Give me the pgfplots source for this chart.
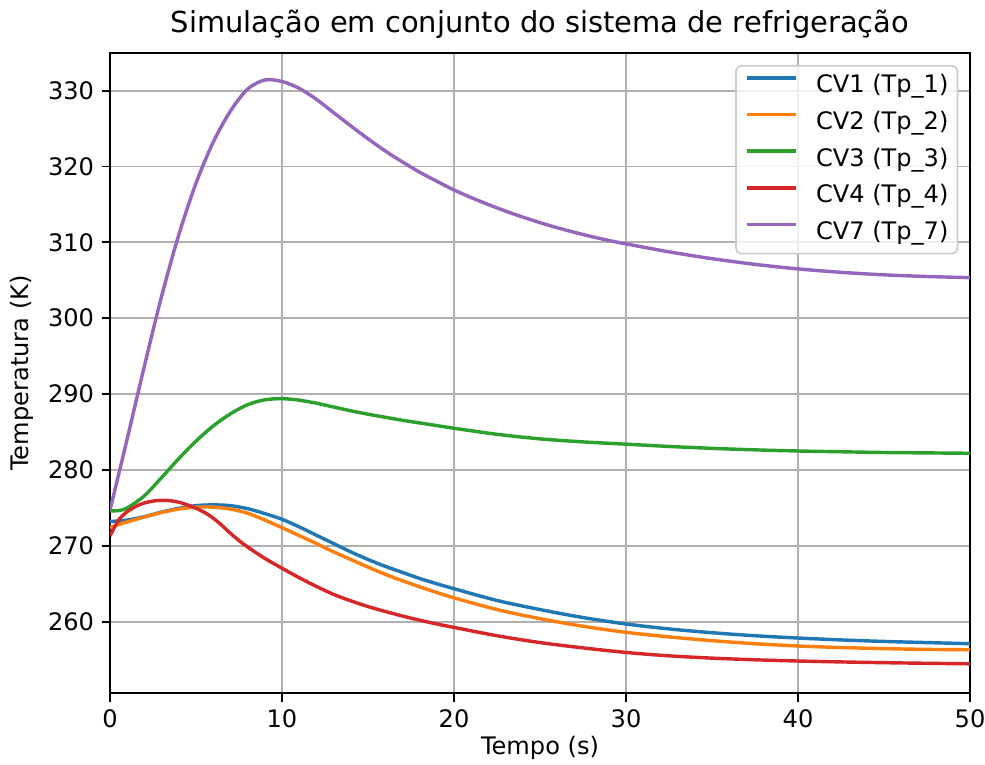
\documentclass[border=0pt]{standalone}
\usepackage{fontspec}
\setmainfont{DejaVu Sans}
\usepackage{pgfplots}
\pgfplotsset{compat=1.18}
\usepackage{pgfplotstable}

\definecolor{c0}{HTML}{1F77B4}
\definecolor{c1}{HTML}{FF7F0E}
\definecolor{c2}{HTML}{2CA02C}
\definecolor{c3}{HTML}{D62728}
\definecolor{c4}{HTML}{9467BD}
\definecolor{gridgray}{HTML}{B0B0B0}

% Temperatura de parede em cada volume de controle (K) ao longo do tempo (s)
\pgfplotstableread{
t     T
0     273.2
1     273.4
2     273.85
3     274.45
4     274.95
5     275.3
6     275.4
7     275.3
8     274.9
9     274.25
10    273.5
11    272.5
12    271.4
13    270.3
14    269.2
15    268.2
16    267.3
17    266.5
18    265.7
19    265.0
20    264.35
22.5  262.8
25    261.6
27.5  260.55
30    259.7
32.5  259.05
35    258.55
37.5  258.15
40    257.85
42.5  257.6
45    257.4
47.5  257.25
50    257.1
}\cvone

\pgfplotstableread{
t     T
0     272.4
0.5   272.8
1     273.15
2     273.8
3     274.4
4     274.85
5     275.1
6     275.1
7     274.85
8     274.3
9     273.4
10    272.4
11    271.35
12    270.3
13    269.2
14    268.2
15    267.2
16    266.25
17    265.4
18    264.6
19    263.85
20    263.15
22.5  261.6
25    260.4
27.5  259.4
30    258.6
32.5  258.0
35    257.5
37.5  257.1
40    256.8
42.5  256.6
45    256.45
47.5  256.35
50    256.3
}\cvtwo

\pgfplotstableread{
t     T
0     274.6
0.5   274.65
1     275.0
2     276.6
3     279.0
4     281.5
5     283.8
6     285.8
7     287.4
8     288.6
9     289.25
10    289.4
11    289.2
12    288.8
13    288.3
14    287.8
15    287.35
16    286.95
17    286.55
18    286.2
19    285.85
20    285.5
22.5  284.7
25    284.1
27.5  283.7
30    283.4
32.5  283.1
35    282.85
37.5  282.65
40    282.5
42.5  282.4
45    282.3
47.5  282.25
50    282.2
}\cvthree

\pgfplotstableread{
t     T
0     271.3
0.5   273.4
1     274.5
1.5   275.2
2     275.65
2.5   275.9
3     276.0
3.5   275.95
4     275.75
4.5   275.4
5     274.95
5.5   274.4
6     273.65
6.5   272.7
7     271.65
7.5   270.7
8     269.85
9     268.35
10    267.05
11    265.8
12    264.65
13    263.6
14    262.75
15    262.0
16    261.35
17    260.75
18    260.2
19    259.7
20    259.25
22.5  258.15
25    257.25
27.5  256.55
30    255.95
32.5  255.5
35    255.2
37.5  254.98
40    254.82
42.5  254.7
45    254.6
47.5  254.52
50    254.45
}\cvfour

\pgfplotstableread{
t     T
0     274.7
1     284.1
2     293.7
3     302.9
4     311.0
5     317.8
6     323.2
7     327.3
8     330.2
9     331.4
10    331.2
11    330.3
12    328.85
13    327.1
14    325.35
15    323.65
16    322.05
17    320.6
18    319.25
19    318.05
20    316.9
21    315.9
22    314.98
23    314.12
24    313.33
25    312.6
26    311.93
27    311.32
28    310.76
29    310.25
30    309.8
32.5  308.75
35    307.85
37.5  307.1
40    306.5
42.5  306.05
45    305.72
47.5  305.5
50    305.35
}\cvseven

\begin{document}
\begin{tikzpicture}
\begin{axis}[
  scale only axis,
  width=401.6pt, height=299.2pt,
  xmin=0, xmax=50, ymin=250.55, ymax=335.0,
  xtick={0,10,20,30,40,50},
  ytick={260,270,280,290,300,310,320,330},
  tick pos=left, tick align=outside,
  major tick length=3.94pt,
  major tick style={black, line width=0.9pt},
  axis line style={black, line width=0.9pt},
  grid=major,
  major grid style={gridgray, line width=0.9pt},
  /pgf/number format/assume math mode=true,
  tick label style={font=\fontsize{11.25}{13.5}\selectfont},
  title={Simulação em conjunto do sistema de refrigeração},
  every axis title/.style={at={(axis description cs:0.5,1.0318)}, anchor=base,
    font=\fontsize{13.5}{16}\selectfont},
  xlabel={Tempo (s)},
  ylabel={Temperatura (K)},
  every axis x label/.style={at={(axis description cs:0.5,-0.0956)}, anchor=base,
    font=\fontsize{11.25}{13.5}\selectfont},
  every axis y label/.style={at={(axis description cs:-0.1023,0.5)}, rotate=90,
    anchor=center, font=\fontsize{11.25}{13.5}\selectfont},
  legend cell align=left,
  legend image code/.code={\draw[#1] (0pt,4pt) -- (23pt,4pt);},
  legend style={at={(axis description cs:0.9864,0.9808)}, anchor=north east,
    font=\fontsize{11.25}{13.5}\selectfont,
    draw=black!20, line width=0.8pt, rounded corners=2.5pt,
    fill=white, fill opacity=0.8, text opacity=1,
    inner xsep=4.2pt, inner ysep=4.15pt, row sep=6.1pt,
    nodes={inner sep=0pt, text height=8.5pt, text depth=2.5pt},
    /tikz/every odd column/.append style={column sep=8.6pt}},
  every axis plot/.append style={line width=1.6pt, line join=round},
]
\addplot[c0, smooth, tension=0.5] table[x=t, y=T] {\cvone};
\addlegendentry{CV1 (Tp\_1)}
\addplot[c1, smooth, tension=0.5] table[x=t, y=T] {\cvtwo};
\addlegendentry{CV2 (Tp\_2)}
\addplot[c2, smooth, tension=0.5] table[x=t, y=T] {\cvthree};
\addlegendentry{CV3 (Tp\_3)}
\addplot[c3, smooth, tension=0.5] table[x=t, y=T] {\cvfour};
\addlegendentry{CV4 (Tp\_4)}
\addplot[c4, smooth, tension=0.5] table[x=t, y=T] {\cvseven};
\addlegendentry{CV7 (Tp\_7)}
\end{axis}
\pgfresetboundingbox
\path ([shift={(-51.37pt,-33.4pt)}]current axis.south west)
  rectangle ([shift={(7pt,24.6pt)}]current axis.north east);
\end{tikzpicture}
\end{document}
